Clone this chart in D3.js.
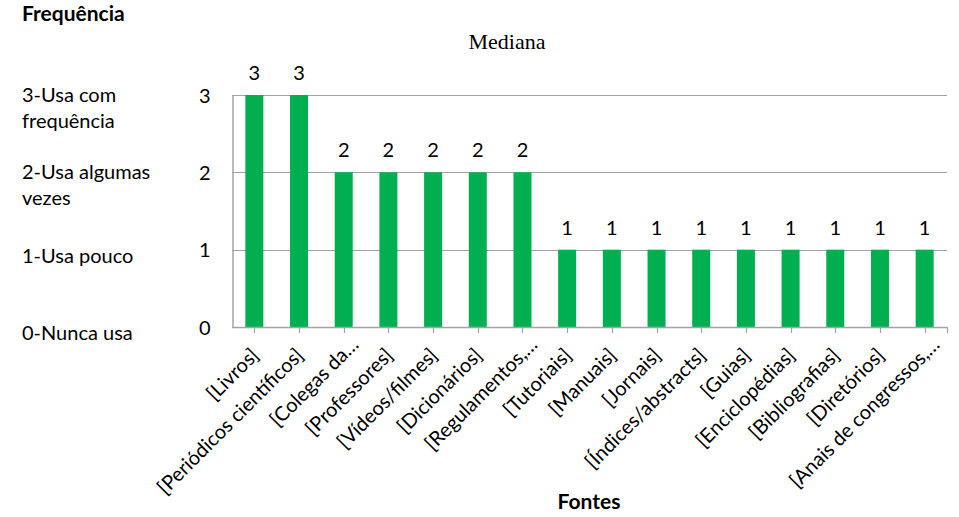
<!DOCTYPE html>
<html>
<head>
<meta charset="utf-8">
<script src="https://cdn.jsdelivr.net/npm/d3@7"></script>
<style>
  html, body { margin: 0; padding: 0; background: #fff; }
  svg { display: block; }
  text { font-family: "Lato", "Open Sans", sans-serif; fill: #000; }
</style>
</head>
<body>
<svg id="chart" width="959" height="517"></svg>
<script>
// Fontes de informação e a mediana de uso de cada uma
const categories = [
  "[Livros]", "[Periódicos científicos]", "[Colegas da…", "[Professores]",
  "[Vídeos/filmes]", "[Dicionários]", "[Regulamentos,…", "[Tutoriais]",
  "[Manuais]", "[Jornais]", "[Índices/abstracts]", "[Guias]",
  "[Enciclopédias]", "[Bibliografias]", "[Diretórios]", "[Anais de congressos,…"
];
const medianValues = [3, 3, 2, 2, 2, 2, 2, 1, 1, 1, 1, 1, 1, 1, 1, 1];
const yTicks = [0, 1, 2, 3];
const frequencyLabels = [
  ["0-Nunca usa"],
  ["1-Usa pouco"],
  ["2-Usa algumas", "vezes"],
  ["3-Usa com", "frequência"]
];
const chartTitle = "Mediana";
const yTitle = "Frequência";
const xTitle = "Fontes";

const svg = d3.select("#chart");
const plot = { left: 232, right: 947, top: 95, bottom: 327 };
const fontSize = 20;

const x = d3.scaleBand()
  .domain(categories)
  .range([plot.left, plot.right]);
const cx = c => x(c) + x.bandwidth() / 2;

const y = d3.scaleLinear()
  .domain([0, 3])
  .range([plot.bottom, plot.top]);

const barWidth = 18;
const gridColor = "#a3a3a3";

// horizontal gridlines
svg.append("g")
  .selectAll("line")
  .data(yTicks.filter(d => d > 0))
  .join("line")
  .attr("x1", plot.left).attr("x2", plot.right)
  .attr("y1", d => Math.round(y(d)) + 0.5).attr("y2", d => Math.round(y(d)) + 0.5)
  .attr("stroke", gridColor).attr("stroke-width", 1.2);

const rows = categories.map((c, i) => ({ c, v: medianValues[i] }));

// bars
svg.append("g")
  .selectAll("rect")
  .data(rows)
  .join("rect")
  .attr("x", d => cx(d.c) - barWidth / 2)
  .attr("width", barWidth)
  .attr("y", d => y(d.v))
  .attr("height", d => y(0) - y(d.v))
  .attr("fill", "#00b050");

// value labels
svg.append("g")
  .selectAll("text")
  .data(rows)
  .join("text")
  .attr("x", d => cx(d.c))
  .attr("y", d => y(d.v) - 15)
  .attr("text-anchor", "middle")
  .attr("font-size", fontSize)
  .text(d => d.v);

// y axis line and tick numbers
const yAxis = d3.axisLeft(y).tickValues(yTicks).tickSize(0).tickPadding(22).tickFormat(d3.format("d"));
const gy = svg.append("g").attr("transform", `translate(${plot.left + 0.5},0)`).call(yAxis);
gy.select(".domain").attr("stroke", gridColor).attr("stroke-width", 1.5);
gy.selectAll("text")
  .attr("font-size", fontSize)
  .attr("font-family", "Lato, 'Open Sans', sans-serif")
  .attr("fill", "#000")
  .attr("dy", "0.36em");

// x axis: ticks under each bar plus one at the end of the axis
svg.append("line")
  .attr("x1", plot.left).attr("x2", plot.right)
  .attr("y1", plot.bottom + 0.5).attr("y2", plot.bottom + 0.5)
  .attr("stroke", gridColor).attr("stroke-width", 1.5);
svg.append("g")
  .selectAll("line")
  .data(categories.map(cx).concat([plot.right]))
  .join("line")
  .attr("x1", d => Math.round(d) + 0.5).attr("x2", d => Math.round(d) + 0.5)
  .attr("y1", plot.bottom).attr("y2", plot.bottom + 6)
  .attr("stroke", gridColor).attr("stroke-width", 1.2);

// rotated category labels; truncated names sit a little further along the slant
svg.append("g")
  .selectAll("text")
  .data(categories)
  .join("text")
  .attr("transform", d => {
    const along = d.endsWith("…") ? 15 : 0;
    return `translate(${cx(d) + 2},${plot.bottom + 26}) rotate(-45) translate(${along},0)`;
  })
  .attr("text-anchor", "end")
  .attr("dominant-baseline", "middle")
  .attr("font-size", fontSize)
  .text(d => d);

// verbal frequency scale on the left
const labelBaselineShift = [13, 13, 7, 7];
const fl = svg.append("g");
frequencyLabels.forEach((lines, i) => {
  const base = y(yTicks[i]) + labelBaselineShift[i];
  lines.forEach((ln, j) => {
    fl.append("text")
      .attr("x", 22)
      .attr("y", base + j * 26)
      .attr("font-size", fontSize)
      .text(ln);
  });
});

// titles
svg.append("text")
  .attr("x", 22).attr("y", 21)
  .attr("font-size", 21).attr("font-weight", "bold")
  .text(yTitle);

svg.append("text")
  .attr("x", 507).attr("y", 49)
  .attr("text-anchor", "middle")
  .attr("font-size", 22)
  .style("font-family", "'Liberation Serif', 'DejaVu Serif', serif")
  .text(chartTitle);

svg.append("text")
  .attr("x", 589).attr("y", 509)
  .attr("text-anchor", "middle")
  .attr("font-size", 21).attr("font-weight", "bold")
  .text(xTitle);
</script>
</body>
</html>
